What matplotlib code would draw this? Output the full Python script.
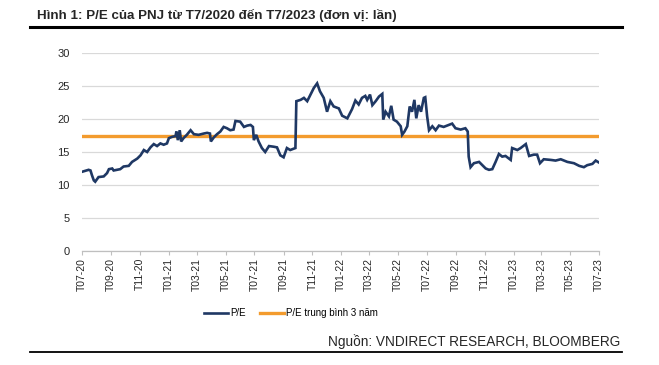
import matplotlib
matplotlib.use("Agg")
import matplotlib.pyplot as plt
import pandas as pd
from matplotlib.lines import Line2D

plt.rcParams['font.family'] = ['Liberation Sans', 'DejaVu Sans']

dates = [
    "2020-07-01", "2020-07-15", "2020-07-19", "2020-07-22", "2020-07-26", "2020-07-29",
    "2020-08-05", "2020-08-16", "2020-08-23", "2020-08-27", "2020-09-03", "2020-09-06",
    "2020-09-20", "2020-09-27", "2020-10-08", "2020-10-15", "2020-10-26", "2020-11-02",
    "2020-11-09", "2020-11-16", "2020-11-23", "2020-11-30", "2020-12-07", "2020-12-14",
    "2020-12-21", "2020-12-28", "2021-01-01", "2021-01-08", "2021-01-15", "2021-01-17",
    "2021-01-20", "2021-01-24", "2021-01-27", "2021-02-01", "2021-02-08", "2021-02-16",
    "2021-02-23", "2021-03-05", "2021-03-16", "2021-03-23", "2021-03-29", "2021-03-31",
    "2021-04-06", "2021-04-13", "2021-04-20", "2021-04-27", "2021-05-04", "2021-05-11",
    "2021-05-18", "2021-05-22", "2021-06-01", "2021-06-09", "2021-06-16", "2021-06-23",
    "2021-06-28", "2021-06-30", "2021-07-05", "2021-07-10", "2021-07-17", "2021-07-24",
    "2021-08-01", "2021-08-11", "2021-08-18", "2021-08-25", "2021-09-01", "2021-09-08",
    "2021-09-15", "2021-09-26", "2021-09-28", "2021-10-07", "2021-10-14", "2021-10-21",
    "2021-10-28", "2021-11-04", "2021-11-11", "2021-11-17", "2021-11-25", "2021-12-02",
    "2021-12-09", "2021-12-16", "2021-12-27", "2022-01-03", "2022-01-14", "2022-01-24",
    "2022-01-31", "2022-02-07", "2022-02-14", "2022-02-21", "2022-02-25", "2022-03-03",
    "2022-03-08", "2022-03-15", "2022-03-22", "2022-03-29", "2022-03-31", "2022-04-05",
    "2022-04-12", "2022-04-17", "2022-04-22", "2022-04-29", "2022-05-07", "2022-05-10",
    "2022-05-15", "2022-05-21", "2022-05-26", "2022-05-31", "2022-06-05", "2022-06-09",
    "2022-06-14", "2022-06-19", "2022-06-25", "2022-06-28", "2022-07-02", "2022-07-06",
    "2022-07-13", "2022-07-20", "2022-07-27", "2022-08-06", "2022-08-13", "2022-08-24",
    "2022-08-31", "2022-09-11", "2022-09-21", "2022-09-26", "2022-09-28", "2022-10-02",
    "2022-10-09", "2022-10-20", "2022-10-27", "2022-11-03", "2022-11-10", "2022-11-17",
    "2022-11-24", "2022-12-01", "2022-12-08", "2022-12-15", "2022-12-26", "2022-12-29",
    "2023-01-09", "2023-01-16", "2023-01-27", "2023-02-03", "2023-02-13", "2023-02-20",
    "2023-02-26", "2023-03-06", "2023-03-21", "2023-03-31", "2023-04-11", "2023-04-25",
    "2023-05-09", "2023-05-20", "2023-05-30", "2023-06-06", "2023-06-17", "2023-06-24",
    "2023-07-01",
]
pe_values = [
    12.0, 12.3, 12.2, 11.5, 10.7, 10.5,
    11.2, 11.3, 11.8, 12.4, 12.5, 12.2,
    12.4, 12.8, 12.9, 13.5, 14.0, 14.5,
    15.3, 15.0, 15.7, 16.2, 15.9, 16.3,
    16.1, 16.3, 17.1, 17.3, 17.4, 18.1,
    16.8, 18.3, 16.6, 17.1, 17.6, 18.3,
    17.7, 17.6, 17.8, 17.9, 17.8, 16.6,
    17.2, 17.7, 18.1, 18.8, 18.6, 18.3,
    18.4, 19.7, 19.6, 18.8, 19.0, 19.1,
    18.8, 16.8, 17.6, 16.6, 15.6, 15.0,
    15.9, 15.8, 15.7, 14.5, 14.2, 15.6,
    15.3, 15.6, 22.7, 22.9, 23.2, 22.7,
    23.7, 24.7, 25.4, 24.2, 23.2, 21.1,
    22.7, 21.9, 21.6, 20.5, 20.1, 21.5,
    22.8, 22.2, 23.2, 23.5, 22.9, 23.7,
    22.1, 22.7, 23.4, 23.8, 19.9, 21.1,
    20.4, 22.0, 19.9, 19.6, 18.9, 17.6,
    18.1, 18.9, 21.9, 21.1, 22.9, 20.1,
    22.1, 21.1, 23.2, 23.3, 20.4, 18.3,
    18.9, 18.3, 19.0, 18.8, 19.0, 19.3,
    18.6, 18.4, 18.6, 18.1, 14.3, 12.7,
    13.3, 13.5, 13.0, 12.5, 12.3, 12.4,
    13.5, 14.7, 14.3, 14.4, 13.8, 15.6,
    15.3, 15.6, 16.2, 14.4, 14.6, 14.6,
    13.3, 13.9, 13.8, 13.7, 13.9, 13.5,
    13.3, 12.9, 12.7, 13.0, 13.2, 13.7,
    13.4,
]
pe_avg_3y = 17.4
y_ticks = [0, 5, 10, 15, 20, 25, 30]
x_tick_dates = pd.date_range("2020-07-01", "2023-07-01", freq="2MS")
x_tick_labels = [d.strftime("T%m-%y") for d in x_tick_dates]

title = "Hình 1: P/E của PNJ từ T7/2020 đến T7/2023 (đơn vị: lần)"
source = "Nguồn: VNDIRECT RESEARCH, BLOOMBERG"
series_names = ["P/E", "P/E trung bình 3 năm"]

blue = "#1F3864"
orange = "#F39B2E"

x = pd.to_datetime(dates)

fig = plt.figure(figsize=(6.59, 3.65), dpi=100)
ax = fig.add_axes([82/659, 1-251/365, (599-82)/659, (251-53)/365])

ax.plot(x, pe_values, color=blue, lw=1.9, zorder=3, solid_joinstyle='miter')
ax.plot([x_tick_dates[0], x_tick_dates[-1]], [pe_avg_3y, pe_avg_3y], color=orange, lw=2.4, zorder=2)

ax.set_xlim(x_tick_dates[0], x_tick_dates[-1])
ax.set_ylim(0, 30)
ax.set_yticks(y_ticks)
ax.set_xticks(x_tick_dates)
ax.set_xticklabels(x_tick_labels, rotation=90, fontsize=7.5, color="#262626")
ax.tick_params(axis='y', length=0, pad=9, labelsize=8, labelcolor="#262626")
ax.tick_params(axis='x', length=3, color="#BFBFBF", pad=2)
ax.grid(axis='y', color="#D9D9D9", lw=0.9)
ax.set_axisbelow(True)
for s in ["top", "right", "left"]:
    ax.spines[s].set_visible(False)
ax.spines["bottom"].set_color("#BFBFBF")
ax.spines["bottom"].set_linewidth(0.9)

handles = [Line2D([], [], color=blue, lw=1.9), Line2D([], [], color=orange, lw=2.4)]
fig.legend(handles, series_names, loc="center", bbox_to_anchor=(291/659, 1-313/365),
           ncol=2, frameon=False, fontsize=7, handlelength=2.5, handletextpad=0.2,
           columnspacing=1.5)

fig.text(37/659, 1-15/365, title, fontsize=9.6, fontweight="bold", color="#262626",
         ha="left", va="center")
fig.add_artist(Line2D([30/659, 622/659], [1-27/365, 1-27/365], color="black", lw=2.2))
fig.text(620/659, 1-342/365, source, fontsize=9.8, color="#262626", ha="right", va="center")
fig.add_artist(Line2D([30/659, 622/659], [1-352/365, 1-352/365], color="black", lw=1.3))

fig.savefig("out.png", dpi=100)
